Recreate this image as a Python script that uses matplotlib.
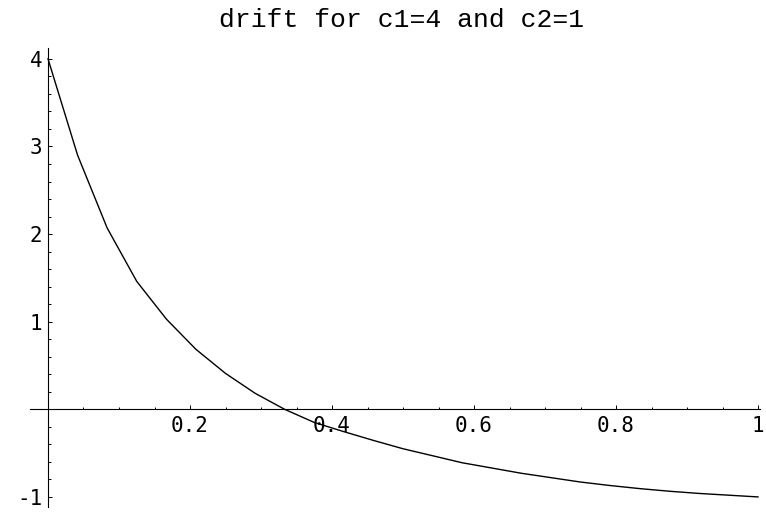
import numpy as np
import matplotlib.pyplot as plt
from matplotlib.ticker import MultipleLocator, FixedLocator, FuncFormatter

x_vals = [0.0, 0.0417, 0.0833, 0.125, 0.1667, 0.2083, 0.25, 0.2917, 0.3333,
          0.375, 0.4167, 0.4583, 0.5, 0.5417, 0.5833, 0.625, 0.6667, 0.7083,
          0.75, 0.7917, 0.8333, 0.875, 0.9167, 0.9583, 1.0]
drift = [4.0, 2.90, 2.07, 1.46, 1.03, 0.685, 0.41, 0.183, 0.0,
         -0.15, -0.255, -0.355, -0.45, -0.53, -0.61, -0.67, -0.73, -0.78,
         -0.83, -0.87, -0.905, -0.935, -0.96, -0.98, -1.0]

x_ticks = [0.2, 0.4, 0.6, 0.8, 1.0]
x_labels = ['0.2', '0.4', '0.6', '0.8', '1']
y_ticks = [-1, 1, 2, 3, 4]
y_labels = ['-1', '1', '2', '3', '4']

W, H = 766, 512
fig = plt.figure(figsize=(W / 100, H / 100), dpi=100)

# axes box in pixels (left, top, right, bottom)
pl, pt, pr, pb = 30, 48, 760, 507
ax = fig.add_axes([pl / W, 1 - pb / H, (pr - pl) / W, (pb - pt) / H])

ax.plot(x_vals, drift, color='black', lw=1.0)

ax.set_xlim(-0.02535, 1.0028)
ax.set_ylim(-1.115, 4.124)

for s in ['top', 'right']:
    ax.spines[s].set_visible(False)
ax.spines['left'].set_position(('data', 0))
ax.spines['bottom'].set_position(('data', 0))
ax.spines['left'].set_linewidth(0.8)
ax.spines['bottom'].set_linewidth(0.8)

ax.xaxis.set_major_locator(FixedLocator(x_ticks))
ax.xaxis.set_major_formatter(FuncFormatter(lambda v, p: x_labels[x_ticks.index(v)] if v in x_ticks else ''))
ax.xaxis.set_minor_locator(FixedLocator([i * 0.05 for i in range(0, 21) if i % 4 != 0] + [0.0]))
ax.yaxis.set_major_locator(FixedLocator(y_ticks))
ax.yaxis.set_major_formatter(FuncFormatter(lambda v, p: y_labels[y_ticks.index(v)] if v in y_ticks else ''))
ax.yaxis.set_minor_locator(MultipleLocator(0.2))

ax.tick_params(which='both', direction='in', width=0.7, colors='black')
ax.tick_params(which='major', length=3.2)
ax.tick_params(which='minor', length=1.8)
ax.tick_params(axis='x', which='major', pad=5)
ax.tick_params(axis='y', which='major', pad=4)
for lab in ax.get_xticklabels() + ax.get_yticklabels():
    lab.set_fontfamily('DejaVu Sans Mono')
    lab.set_fontsize(15)

fig.text(402 / W, 1 - 20 / H, 'drift for c1=4 and c2=1', ha='center', va='center',
         family='Liberation Mono', fontsize=19)

plt.savefig('out.png', dpi=100)
